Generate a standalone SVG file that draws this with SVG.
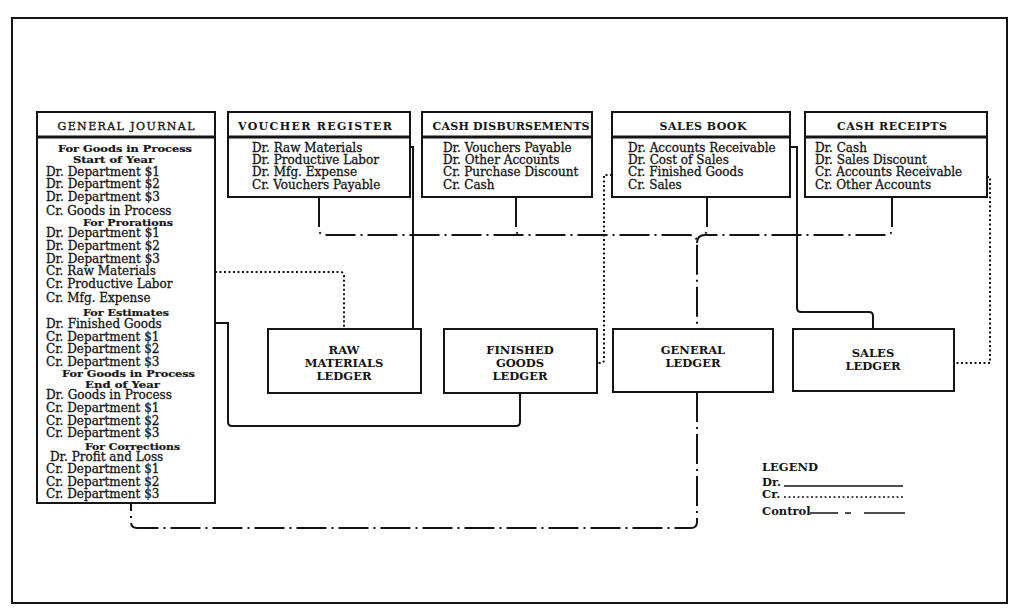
<svg xmlns="http://www.w3.org/2000/svg" width="1024" height="615" viewBox="0 0 1024 615">
<style>
.frame{fill:#fff;stroke:#141414;stroke-width:2}
.box{fill:#fff;stroke:#141414;stroke-width:2}
.sep{stroke:#141414;stroke-width:3}
.dr{fill:none;stroke:#141414;stroke-width:2}
.cr{fill:none;stroke:#141414;stroke-width:2;stroke-dasharray:2,2.5}
.ctl{fill:none;stroke:#141414;stroke-width:2;stroke-dasharray:30,5,2,5}
text{font-family:"DejaVu Serif","Liberation Serif",serif;fill:#141414}
.t{font-size:11px;font-weight:bold}
.tg{font-size:11px;stroke:#141414;stroke-width:0.35}
.b{font-size:12px;stroke:#141414;stroke-width:0.3}
.h{font-size:9.6px;font-weight:bold;stroke:#141414;stroke-width:0.2}
.l{font-size:11.5px;font-weight:bold;text-anchor:middle}
.lg{font-size:11.5px;font-weight:bold}
</style>
<rect class="frame" x="12" y="18" width="995" height="585"/>

<g id="connectors">
  <!-- Dr (solid) -->
  <path class="dr" d="M410,147 H413 V329"/>
  <path class="dr" d="M790,147 H797 V308 Q797,312 801,312 H869 Q873,312 873,316 V329"/>
  <path class="dr" d="M215,323 H228 V422 Q228,426 232,426 H516 Q520,426 520,422 V393"/>
  <!-- Cr (dotted) -->
  <path class="cr" d="M215,272 H340 Q344,272 344,276 V329"/>
  <path class="cr" d="M612,175 H604 V360 Q604,363 600,363 H597"/>
  <path class="cr" d="M987,177 H990 V363 H954"/>
  <!-- Control (dash-dot) -->
  <path class="ctl" d="M319,197 V229 Q319,235 325,235 H689 Q697,235 697,243 V329"/>
  <path class="ctl" d="M892,197 V229 Q892,235 886,235 H705 Q697,235 697,243"/>
  <path class="ctl" d="M516,197 V229 Q516,235 522,235"/>
  <path class="ctl" d="M707,197 V229 Q707,235 701,235"/>
  <path class="ctl" d="M697,392 V522 Q697,528 691,528 H137 Q131,528 131,522 V503"/>
</g>

<g id="general-journal">
  <rect class="box" x="37" y="112" width="178" height="391"/>
  <line class="sep" x1="37" y1="137" x2="215" y2="137"/>
  <text class="tg" x="126" y="129.5" text-anchor="middle" textLength="137" lengthAdjust="spacing">GENERAL JOURNAL</text>
  <text class="h" x="58" y="151.5" textLength="134" lengthAdjust="spacingAndGlyphs">For Goods in Process</text>
  <text class="h" x="73" y="163" textLength="81" lengthAdjust="spacingAndGlyphs">Start of Year</text>
  <text class="b" x="46" y="176">Dr. Department $1</text>
  <text class="b" x="46" y="188">Dr. Department $2</text>
  <text class="b" x="46" y="201">Dr. Department $3</text>
  <text class="b" x="46" y="215">Cr. Goods in Process</text>
  <text class="h" x="83" y="226" textLength="90" lengthAdjust="spacingAndGlyphs">For Prorations</text>
  <text class="b" x="46" y="237">Dr. Department $1</text>
  <text class="b" x="46" y="250">Dr. Department $2</text>
  <text class="b" x="46" y="263">Dr. Department $3</text>
  <text class="b" x="46" y="275">Cr. Raw Materials</text>
  <text class="b" x="46" y="288">Cr. Productive Labor</text>
  <text class="b" x="46" y="302">Cr. Mfg. Expense</text>
  <text class="h" x="83" y="316" textLength="86" lengthAdjust="spacingAndGlyphs">For Estimates</text>
  <text class="b" x="46" y="328">Dr. Finished Goods</text>
  <text class="b" x="46" y="341">Cr. Department $1</text>
  <text class="b" x="46" y="353">Cr. Department $2</text>
  <text class="b" x="46" y="366">Cr. Department $3</text>
  <text class="h" x="62" y="376.5" textLength="133" lengthAdjust="spacingAndGlyphs">For Goods in Process</text>
  <text class="h" x="85" y="388" textLength="75" lengthAdjust="spacingAndGlyphs">End of Year</text>
  <text class="b" x="46" y="399">Dr. Goods in Process</text>
  <text class="b" x="46" y="412">Cr. Department $1</text>
  <text class="b" x="46" y="425">Cr. Department $2</text>
  <text class="b" x="46" y="437">Cr. Department $3</text>
  <text class="h" x="85" y="450" textLength="95" lengthAdjust="spacingAndGlyphs">For Corrections</text>
  <text class="b" x="50" y="461">Dr. Profit and Loss</text>
  <text class="b" x="46" y="473">Cr. Department $1</text>
  <text class="b" x="46" y="486">Cr. Department $2</text>
  <text class="b" x="46" y="498">Cr. Department $3</text>
</g>

<g id="voucher-register">
  <rect class="box" x="228" y="112" width="182" height="85"/>
  <line class="sep" x1="228" y1="137" x2="410" y2="137"/>
  <text class="t" x="315" y="129.5" text-anchor="middle" textLength="154" lengthAdjust="spacing">VOUCHER REGISTER</text>
  <text class="b" x="252" y="152">Dr. Raw Materials</text>
  <text class="b" x="252" y="164">Dr. Productive Labor</text>
  <text class="b" x="252" y="176">Dr. Mfg. Expense</text>
  <text class="b" x="252" y="189">Cr. Vouchers Payable</text>
</g>

<g id="cash-disbursements">
  <rect class="box" x="422" y="112" width="170" height="85"/>
  <line class="sep" x1="422" y1="137" x2="592" y2="137"/>
  <text class="t" x="511" y="129.5" text-anchor="middle" textLength="157" lengthAdjust="spacing">CASH DISBURSEMENTS</text>
  <text class="b" x="443" y="152">Dr. Vouchers Payable</text>
  <text class="b" x="443" y="164">Dr. Other Accounts</text>
  <text class="b" x="443" y="176">Cr. Purchase Discount</text>
  <text class="b" x="443" y="189">Cr. Cash</text>
</g>

<g id="sales-book">
  <rect class="box" x="612" y="112" width="178" height="85"/>
  <line class="sep" x1="612" y1="137" x2="790" y2="137"/>
  <text class="t" x="703" y="129.5" text-anchor="middle" textLength="87" lengthAdjust="spacing">SALES BOOK</text>
  <text class="b" x="628" y="152">Dr. Accounts Receivable</text>
  <text class="b" x="628" y="164">Dr. Cost of Sales</text>
  <text class="b" x="628" y="176">Cr. Finished Goods</text>
  <text class="b" x="628" y="189">Cr. Sales</text>
</g>

<g id="cash-receipts">
  <rect class="box" x="805" y="112" width="182" height="85"/>
  <line class="sep" x1="805" y1="137" x2="987" y2="137"/>
  <text class="t" x="892" y="129.5" text-anchor="middle" textLength="110" lengthAdjust="spacing">CASH RECEIPTS</text>
  <text class="b" x="815" y="152">Dr. Cash</text>
  <text class="b" x="815" y="164">Dr. Sales Discount</text>
  <text class="b" x="815" y="176">Cr. Accounts Receivable</text>
  <text class="b" x="815" y="189">Cr. Other Accounts</text>
</g>

<g id="raw-materials-ledger">
  <rect class="box" x="268" y="329" width="153" height="64"/>
  <text class="l" x="344" y="354">RAW</text>
  <text class="l" x="344" y="367">MATERIALS</text>
  <text class="l" x="344" y="380">LEDGER</text>
</g>

<g id="finished-goods-ledger">
  <rect class="box" x="444" y="329" width="153" height="64"/>
  <text class="l" x="520" y="354">FINISHED</text>
  <text class="l" x="520" y="367">GOODS</text>
  <text class="l" x="520" y="380">LEDGER</text>
</g>

<g id="general-ledger">
  <rect class="box" x="613" y="329" width="160" height="63"/>
  <text class="l" x="693" y="354">GENERAL</text>
  <text class="l" x="693" y="367">LEDGER</text>
</g>

<g id="sales-ledger">
  <rect class="box" x="793" y="329" width="161" height="62"/>
  <text class="l" x="873" y="357">SALES</text>
  <text class="l" x="873" y="370">LEDGER</text>
</g>

<g id="legend">
  <text class="lg" x="762" y="471">LEGEND</text>
  <text class="lg" x="762" y="486">Dr.</text>
  <text class="lg" x="762" y="498">Cr.</text>
  <text class="lg" x="762" y="515">Control</text>
  <line class="dr" x1="784" y1="486" x2="903" y2="486" style="stroke-width:1.5"/>
  <line class="cr" x1="784" y1="497" x2="905" y2="497" style="stroke-width:1.5"/>
  <path class="dr" d="M810,513 H838 M845,513 H851 M864,513 H905" style="stroke-width:1.5"/>
</g>
</svg>
